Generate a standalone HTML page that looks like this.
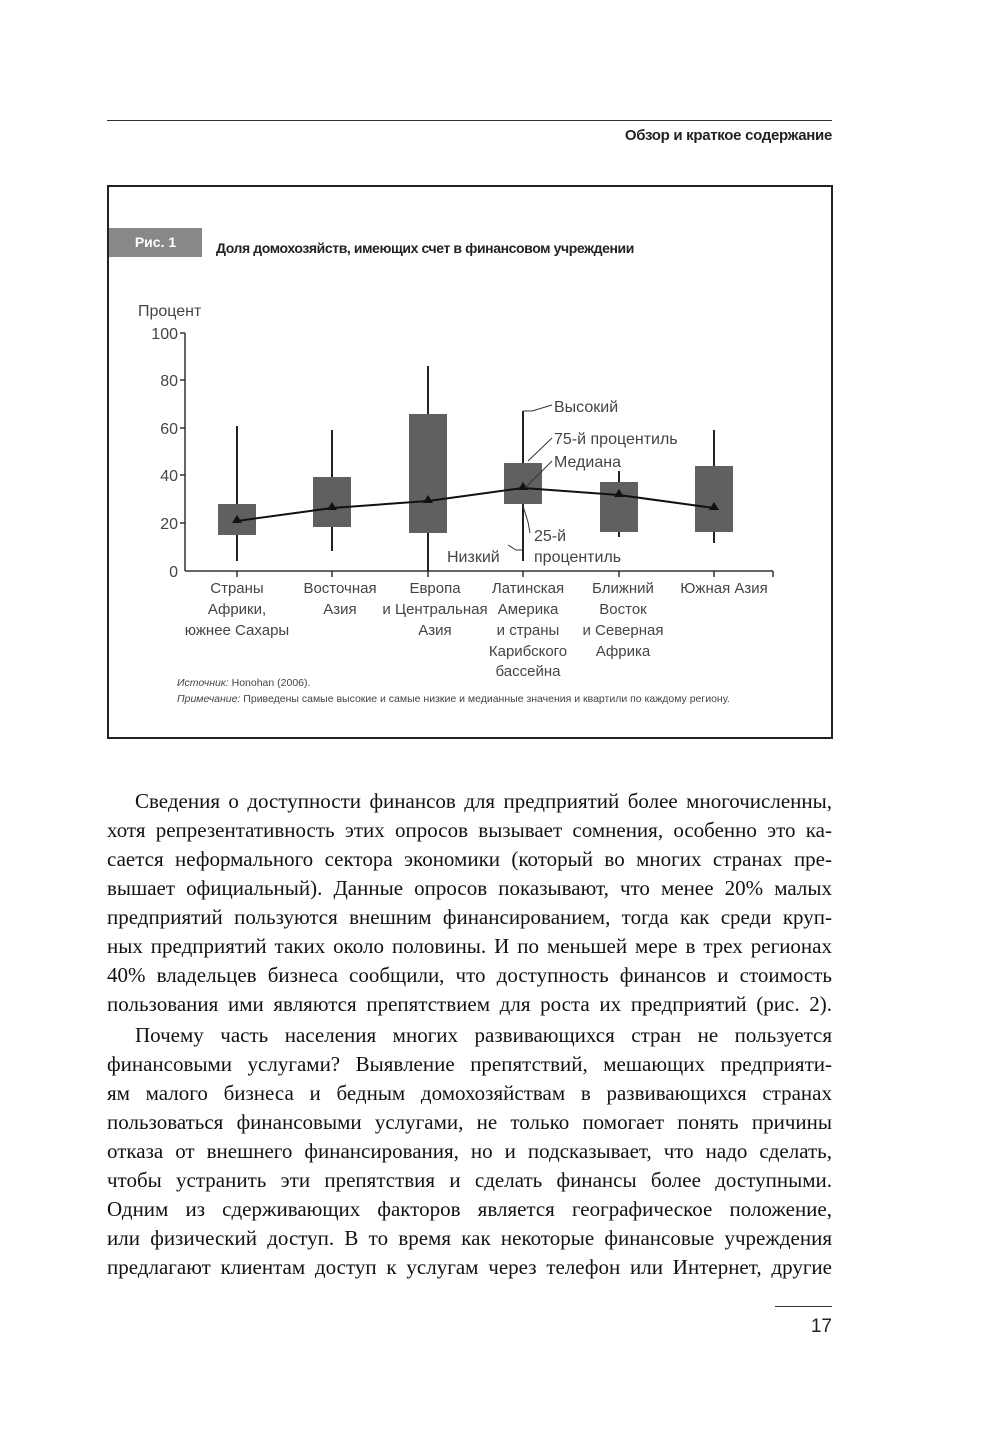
<!DOCTYPE html>
<html><head><meta charset="utf-8">
<style>
body{margin:0;width:1004px;height:1447px;background:#fff;position:relative;overflow:hidden;font-family:"Liberation Sans",sans-serif;}
.abs{position:absolute;}
.ln{position:absolute;left:107px;width:725px;font-family:"Liberation Serif",serif;font-size:21px;line-height:29px;text-align:justify;text-align-last:justify;color:#111;white-space:nowrap;}
</style></head><body>
<div class="abs" style="left:107px;top:120px;width:725px;height:1px;background:#333"></div>
<div class="abs" style="right:172px;top:127px;font-size:15px;font-weight:bold;color:#222;letter-spacing:-0.3px">Обзор и краткое содержание</div>
<div class="abs" style="left:107px;top:185px;width:722px;height:550px;border:2px solid #222"></div>
<div class="abs" style="left:109px;top:228px;width:93px;height:29px;background:#888;color:#fff;font-weight:bold;font-size:14px;line-height:29px;text-align:center">Рис. 1</div>
<div class="abs" style="left:216px;top:240px;font-size:14px;font-weight:bold;color:#222;letter-spacing:-0.4px">Доля домохозяйств, имеющих счет в финансовом учреждении</div>
<svg class="abs" style="left:0;top:0" width="1004" height="740" font-family="Liberation Sans, sans-serif" fill="#444">
<text x="138" y="316" font-size="16">Процент</text>
<g font-size="16" text-anchor="end">
<text x="178" y="339">100</text><text x="178" y="386">80</text><text x="178" y="434">60</text>
<text x="178" y="481">40</text><text x="178" y="529">20</text><text x="178" y="577">0</text></g>
<g stroke="#333" stroke-width="1.5">
<line x1="185" y1="333" x2="185" y2="571"/><line x1="185" y1="571" x2="773" y2="571"/>
<line x1="180" y1="333" x2="185" y2="333"/><line x1="180" y1="380" x2="185" y2="380"/><line x1="180" y1="428" x2="185" y2="428"/><line x1="180" y1="475" x2="185" y2="475"/><line x1="180" y1="523" x2="185" y2="523"/>
<line x1="237" y1="571" x2="237" y2="577"/><line x1="332" y1="571" x2="332" y2="577"/><line x1="428" y1="571" x2="428" y2="577"/><line x1="523" y1="571" x2="523" y2="577"/><line x1="619" y1="571" x2="619" y2="577"/><line x1="714" y1="571" x2="714" y2="577"/><line x1="773" y1="571" x2="773" y2="577"/>
</g>
<g stroke="#222" stroke-width="2">
<line x1="237" y1="426" x2="237" y2="561"/><line x1="332" y1="430" x2="332" y2="551"/><line x1="428" y1="366" x2="428" y2="571"/>
<line x1="523" y1="411" x2="523" y2="561"/><line x1="619" y1="471" x2="619" y2="537"/><line x1="714" y1="430" x2="714" y2="543"/>
</g>
<g fill="#606060">
<rect x="218" y="504" width="38" height="31"/><rect x="313" y="477" width="38" height="50"/><rect x="409" y="414" width="38" height="119"/>
<rect x="504" y="463" width="38" height="41"/><rect x="600" y="482" width="38" height="50"/><rect x="695" y="466" width="38" height="66"/>
</g>
<polyline points="237,521 332,508 428,501 523,488 619,495 714,508" fill="none" stroke="#111" stroke-width="2"/>
<g fill="#111">
<path d="M237,515l5,8h-10z"/><path d="M332,502l5,8h-10z"/><path d="M428,495l5,8h-10z"/><path d="M523,482l5,8h-10z"/><path d="M619,489l5,8h-10z"/><path d="M714,502l5,8h-10z"/></g>
<g stroke="#333" stroke-width="1" fill="none">
<path d="M523,411 L532,411 L552,405"/><path d="M528,461 L552,438"/><path d="M525,488 L552,461"/><path d="M523,506 L528,522 L530,533"/><path d="M508,545 L516,550 L523,550"/>
</g>
<g font-size="16" fill="#444">
<text x="554" y="412">Высокий</text><text x="554" y="444">75-й процентиль</text><text x="554" y="467">Медиана</text>
<text x="534" y="541">25-й</text><text x="534" y="562">процентиль</text><text x="447" y="562">Низкий</text></g>
<g font-size="15" text-anchor="middle" fill="#444">
<text x="237" y="593">Страны</text><text x="237" y="614">Африки,</text><text x="237" y="635">южнее Сахары</text>
<text x="340" y="593">Восточная</text><text x="340" y="614">Азия</text>
<text x="435" y="593">Европа</text><text x="435" y="614">и Центральная</text><text x="435" y="635">Азия</text>
<text x="528" y="593">Латинская</text><text x="528" y="614">Америка</text><text x="528" y="635">и страны</text><text x="528" y="656">Карибского</text><text x="528" y="676">бассейна</text>
<text x="623" y="593">Ближний</text><text x="623" y="614">Восток</text><text x="623" y="635">и Северная</text><text x="623" y="656">Африка</text>
<text x="724" y="593">Южная Азия</text></g>
<g font-size="10.5" fill="#444"><text x="177" y="686"><tspan font-style="italic">Источник:</tspan> Honohan (2006).</text>
<text x="177" y="702"><tspan font-style="italic">Примечание:</tspan> Приведены самые высокие и самые низкие и медианные значения и квартили по каждому региону.</text></g>
</svg>
<div class="ln" style="top:787px;left:135px;width:697px">Сведения о доступности финансов для предприятий более многочисленны,</div>
<div class="ln" style="top:816px">хотя репрезентативность этих опросов вызывает сомнения, особенно это ка-</div>
<div class="ln" style="top:845px">сается неформального сектора экономики (который во многих странах пре-</div>
<div class="ln" style="top:874px">вышает официальный). Данные опросов показывают, что менее 20% малых</div>
<div class="ln" style="top:903px">предприятий пользуются внешним финансированием, тогда как среди круп-</div>
<div class="ln" style="top:932px">ных предприятий таких около половины. И по меньшей мере в трех регионах</div>
<div class="ln" style="top:961px">40% владельцев бизнеса сообщили, что доступность финансов и стоимость</div>
<div class="ln" style="top:990px">пользования ими являются препятствием для роста их предприятий (рис. 2).</div>
<div class="ln" style="top:1021px;left:135px;width:697px">Почему часть населения многих развивающихся стран не пользуется</div>
<div class="ln" style="top:1050px">финансовыми услугами? Выявление препятствий, мешающих предприяти-</div>
<div class="ln" style="top:1079px">ям малого бизнеса и бедным домохозяйствам в развивающихся странах</div>
<div class="ln" style="top:1108px">пользоваться финансовыми услугами, не только помогает понять причины</div>
<div class="ln" style="top:1137px">отказа от внешнего финансирования, но и подсказывает, что надо сделать,</div>
<div class="ln" style="top:1166px">чтобы устранить эти препятствия и сделать финансы более доступными.</div>
<div class="ln" style="top:1195px">Одним из сдерживающих факторов является географическое положение,</div>
<div class="ln" style="top:1224px">или физический доступ. В то время как некоторые финансовые учреждения</div>
<div class="ln" style="top:1253px">предлагают клиентам доступ к услугам через телефон или Интернет, другие</div>
<div class="abs" style="left:775px;top:1306px;width:57px;height:1px;background:#333"></div>
<div class="abs" style="right:172px;top:1316px;font-size:19px;color:#222">17</div>
</body></html>
